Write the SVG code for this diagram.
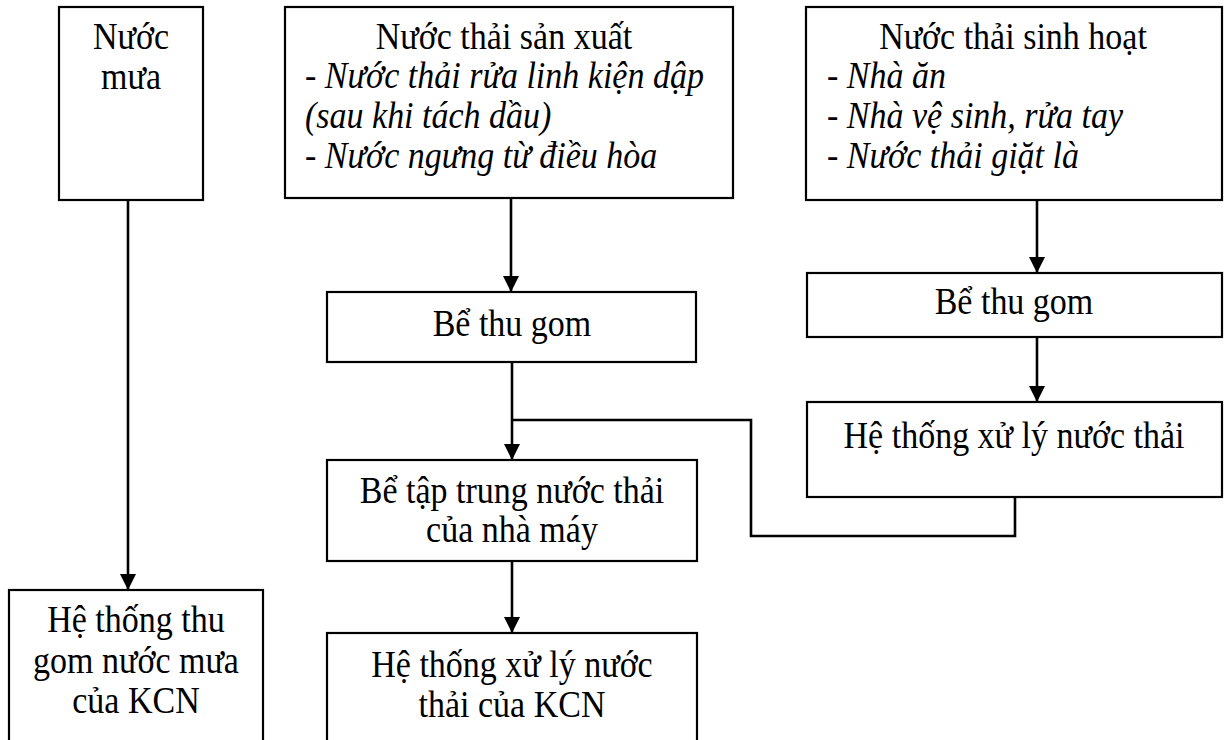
<svg xmlns="http://www.w3.org/2000/svg" width="1225" height="740" viewBox="0 0 1225 740">
  <style>
    .box { fill: #ffffff; stroke: #000000; stroke-width: 2.2; }
    .t { font-family: "Liberation Serif", "Times New Roman", serif; font-size: 34px; fill: #000000; }
    .c { text-anchor: middle; }
    .i { font-style: italic; }
    .link { fill: none; stroke: #000000; stroke-width: 2.6; }
  </style>
  <defs>
    <marker id="arrow" markerUnits="userSpaceOnUse" markerWidth="17" markerHeight="17" refX="16" refY="8" orient="auto">
      <path d="M0,0 L16,8 L0,16 Z" fill="#000000"/>
    </marker>
  </defs>
  <rect width="1225" height="740" fill="#ffffff"/>

  <!-- text lines are stretched 10% vertically about their baseline: matrix(1 0 0 1.1 0 -0.1*y) -->

  <g id="connectors">
    <line class="link" x1="128" y1="200" x2="128" y2="590" marker-end="url(#arrow)"/>
    <line class="link" x1="511" y1="198" x2="511" y2="292" marker-end="url(#arrow)"/>
    <line class="link" x1="1037" y1="200" x2="1037" y2="273" marker-end="url(#arrow)"/>
    <line class="link" x1="512" y1="362" x2="512" y2="460" marker-end="url(#arrow)"/>
    <line class="link" x1="1037" y1="337" x2="1037" y2="402" marker-end="url(#arrow)"/>
    <polyline class="link" points="1015,497 1015,536 751,536 751,420 512,420"/>
    <line class="link" x1="512" y1="561" x2="512" y2="633" marker-end="url(#arrow)"/>
  </g>

  <g id="nuoc-mua">
    <rect class="box" x="59" y="7" width="144" height="193"/>
    <text class="t c" x="131" y="49" transform="matrix(1 0 0 1.1 0 -4.9)">Nước</text>
    <text class="t c" x="131" y="89" transform="matrix(1 0 0 1.1 0 -8.9)">mưa</text>
  </g>

  <g id="nuoc-thai-san-xuat">
    <rect class="box" x="285" y="7" width="448" height="191"/>
    <text class="t c" x="504" y="49" transform="matrix(1 0 0 1.1 0 -4.9)">Nước thải sản xuất</text>
    <text class="t" x="305" y="88" transform="matrix(1 0 0 1.1 0 -8.8)">- <tspan class="i">Nước thải rửa linh kiện dập</tspan></text>
    <text class="t i" x="305" y="128" transform="matrix(1 0 0 1.1 0 -12.8)">(sau khi tách dầu)</text>
    <text class="t" x="305" y="168" transform="matrix(1 0 0 1.1 0 -16.8)">- <tspan class="i">Nước ngưng từ điều hòa</tspan></text>
  </g>

  <g id="nuoc-thai-sinh-hoat">
    <rect class="box" x="806" y="7" width="416" height="193"/>
    <text class="t c" x="1013" y="49" transform="matrix(1 0 0 1.1 0 -4.9)">Nước thải sinh hoạt</text>
    <text class="t" x="827" y="88" transform="matrix(1 0 0 1.1 0 -8.8)">- <tspan class="i">Nhà ăn</tspan></text>
    <text class="t" x="827" y="128" transform="matrix(1 0 0 1.1 0 -12.8)">- <tspan class="i">Nhà vệ sinh, rửa tay</tspan></text>
    <text class="t" x="827" y="168" transform="matrix(1 0 0 1.1 0 -16.8)">- <tspan class="i">Nước thải giặt là</tspan></text>
  </g>

  <g id="be-thu-gom-sx">
    <rect class="box" x="327" y="292" width="369" height="70"/>
    <text class="t c" x="512" y="336" transform="matrix(1 0 0 1.1 0 -33.6)">Bể thu gom</text>
  </g>

  <g id="be-thu-gom-sh">
    <rect class="box" x="807" y="273" width="415" height="64"/>
    <text class="t c" x="1014" y="314" transform="matrix(1 0 0 1.1 0 -31.4)">Bể thu gom</text>
  </g>

  <g id="he-thong-xu-ly">
    <rect class="box" x="807" y="402" width="415" height="95"/>
    <text class="t c" x="1014" y="448" transform="matrix(1 0 0 1.1 0 -44.8)">Hệ thống xử lý nước thải</text>
  </g>

  <g id="be-tap-trung">
    <rect class="box" x="327" y="460" width="370" height="101"/>
    <text class="t c" x="512" y="503" transform="matrix(1 0 0 1.1 0 -50.3)">Bể tập trung nước thải</text>
    <text class="t c" x="512" y="542" transform="matrix(1 0 0 1.1 0 -54.2)">của nhà máy</text>
  </g>

  <g id="he-thong-thu-gom-kcn">
    <rect class="box" x="9" y="590" width="254" height="170"/>
    <text class="t c" x="136" y="632" transform="matrix(1 0 0 1.1 0 -63.2)">Hệ thống thu</text>
    <text class="t c" x="136" y="673" transform="matrix(1 0 0 1.1 0 -67.3)">gom nước mưa</text>
    <text class="t c" x="136" y="713" transform="matrix(1 0 0 1.1 0 -71.3)">của KCN</text>
  </g>

  <g id="he-thong-xu-ly-kcn">
    <rect class="box" x="327" y="633" width="370" height="127"/>
    <text class="t c" x="512" y="677" transform="matrix(1 0 0 1.1 0 -67.7)">Hệ thống xử lý nước</text>
    <text class="t c" x="512" y="717" transform="matrix(1 0 0 1.1 0 -71.7)">thải của KCN</text>
  </g>
</svg>
